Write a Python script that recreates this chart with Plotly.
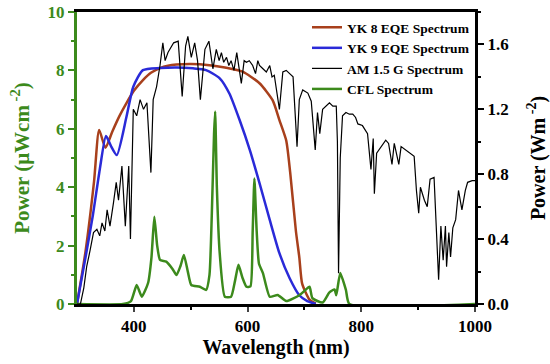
import plotly.graph_objects as go

# YK 8 EQE spectrum (left axis units)
yk8_x = [300, 315, 330, 339, 350, 362, 375, 387, 400, 416, 430, 446, 460, 475, 500, 533, 560, 591, 621, 644, 656, 668, 675, 685, 691, 696, 709, 720]
yk8_y = [0, 1.8, 4.2, 5.96, 5.35, 5.9, 6.45, 6.88, 7.3, 7.67, 7.92, 8.08, 8.16, 8.2, 8.22, 8.18, 8.1, 7.96, 7.56, 6.98, 6.3, 5.6, 4.5, 2.5, 1.6, 0.7, 0.15, 0.02]

# YK 9 EQE spectrum (left axis units)
yk9_x = [300, 315, 328, 340, 351, 360, 370, 387, 399, 416, 446, 475, 504, 527, 551, 568, 586, 604, 621, 639, 656, 674, 691, 705, 714, 720]
yk9_y = [0, 1.6, 3.05, 4.6, 5.75, 5.4, 5.1, 6.41, 7.44, 8.01, 8.08, 8.1, 8.07, 8.01, 7.73, 7.21, 6.3, 5.27, 4.14, 2.88, 1.74, 0.88, 0.3, 0.1, 0.04, 0]

# AM 1.5 G spectrum (right axis units)
am_x = [300, 306, 312, 317, 323, 329, 335, 340, 344, 349, 353, 358, 364, 369, 373, 379, 385, 391, 394, 399, 405, 411, 417, 423, 430, 434, 440, 446,
        451, 455, 460, 465, 470, 478, 485, 491, 495, 501, 507, 512, 517, 525, 532, 539, 545, 550, 554, 558, 563, 567, 571, 576, 581, 589, 594, 598, 603,
        609, 614, 618, 621, 627, 633, 639, 643, 647, 656, 662, 668, 674, 680, 687, 691, 697, 706, 712, 719, 723, 727, 732, 738, 744, 750, 756, 758,
        760, 763, 767, 773, 779, 785, 790, 794, 802, 811, 817, 821, 823, 827, 835, 843, 848, 854, 858, 866, 870, 878, 887, 893, 897, 901, 904, 911,
        916, 921, 928, 932, 936, 940, 944, 948, 950, 954, 957, 961, 966, 971, 977, 983, 987, 995, 1000]
am_y = [0, 0.0, 0.1, 0.23, 0.33, 0.44, 0.46, 0.42, 0.5, 0.45, 0.58, 0.48, 0.62, 0.75, 0.64, 0.85, 0.48, 0.85, 0.4, 1.2, 1.16, 1.26, 1.2, 1.24, 0.81, 1.26, 1.34, 1.47,
        1.61, 1.5, 1.55, 1.58, 1.61, 1.62, 1.28, 1.59, 1.65, 1.52, 1.61, 1.5, 1.26, 1.57, 1.62, 1.45, 1.57, 1.5, 1.55, 1.49, 1.52, 1.47, 1.5, 1.44, 1.55, 1.36, 1.5, 1.49, 1.5,
        1.47, 1.42, 1.5, 1.47, 1.45, 1.43, 1.47, 1.4, 1.41, 1.2, 1.43, 1.44, 1.42, 1.4, 0.97, 1.26, 1.32, 1.3, 1.25, 0.95, 1.18, 1.05, 1.2, 1.22, 1.24, 1.22, 1.22, 1.0,
        0.19, 0.9, 1.16, 1.18, 1.17, 1.17, 1.15, 1.11, 1.1, 1.05, 0.83, 1.02, 0.68, 0.93, 0.97, 1.01, 0.99, 0.86, 0.99, 0.86, 0.97, 0.95, 0.93, 0.91, 0.7, 0.56, 0.72, 0.64,
        0.6, 0.77, 0.78, 0.44, 0.15, 0.48, 0.27, 0.48, 0.23, 0.44, 0.29, 0.47, 0.52, 0.7, 0.58, 0.7, 0.75, 0.76, 0.76]

# CFL spectrum (left axis units)
cfl_x = [300, 381, 395, 405, 414, 425, 431, 436, 441, 446, 457, 468, 475, 482, 488, 495, 501, 516, 527, 533, 537, 541, 543, 546, 551, 560, 571, 578, 584, 591, 598,
         605, 609, 612, 616, 620, 627, 639, 653, 668, 691, 700, 709, 714, 732, 744, 753, 756, 763, 773, 779, 1000]
cfl_y = [0, 0, 0.1, 0.65, 0.25, 0.72, 1.6, 2.99, 2.0, 1.51, 1.45, 1.2, 0.99, 1.3, 1.68, 1.1, 0.65, 0.59, 0.48, 1.0, 3.0, 5.8, 6.59, 4.0, 1.74, 0.25, 0.25, 0.8, 1.34, 0.9, 0.59,
         0.6, 2.5, 4.3, 2.5, 1.39, 1.06, 0.25, 0.31, 0.1, 0.3, 0.45, 0.59, 0.2, 0.05, 0.4, 0.5, 0.3, 1.06, 0.48, 0, 0]

x_ticks = [400, 600, 800, 1000]
left_ticks = [0, 2, 4, 6, 8, 10]
right_ticks = [0.0, 0.4, 0.8, 1.2, 1.6]

GREEN = "#3c8a1c"
BROWN = "#a8401c"
BLUE = "#2a2ad8"
FONT = "Liberation Serif"

fig = go.Figure()
fig.add_trace(go.Scatter(x=am_x, y=am_y, mode="lines", name="AM 1.5 G Spectrum", yaxis="y2",
                         line=dict(color="black", width=1.2), legendrank=3))
fig.add_trace(go.Scatter(x=yk8_x, y=yk8_y, mode="lines", name="YK 8 EQE Spectrum",
                         line=dict(color=BROWN, width=2.5, shape="spline", smoothing=0.6), legendrank=1))
fig.add_trace(go.Scatter(x=yk9_x, y=yk9_y, mode="lines", name="YK 9 EQE Spectrum",
                         line=dict(color=BLUE, width=2.5, shape="spline", smoothing=0.6), legendrank=2))
fig.add_trace(go.Scatter(x=cfl_x, y=cfl_y, mode="lines", name="CFL Spectrum",
                         line=dict(color=GREEN, width=2.5, shape="spline", smoothing=0.5), legendrank=4))

fig.update_layout(
    width=550, height=364,
    margin=dict(l=77, r=75, t=12, b=60),
    paper_bgcolor="white", plot_bgcolor="white",
    font=dict(family=FONT, size=14, color="black"),
    showlegend=True,
    legend=dict(x=1.0, y=1.0, xanchor="right", yanchor="top", bgcolor="rgba(0,0,0,0)",
                font=dict(family=FONT, size=13.5, color="black", weight="bold"),
                tracegroupgap=0, itemwidth=30, borderwidth=0),
    xaxis=dict(range=[300, 1000], tickvals=x_ticks, ticks="outside", ticklen=5, tickwidth=2, automargin=False,
               showline=True, linecolor="black", linewidth=3, mirror=True, showgrid=False, zeroline=False,
               tickfont=dict(family=FONT, size=17, color="black", weight="bold"),
               minor=dict(tickvals=[500, 700, 900], ticks="outside", ticklen=3, tickwidth=2, tickcolor="black"),
               title=dict(text="Wavelength (nm)", font=dict(family=FONT, size=20, color="black", weight="bold"), standoff=2)),
    yaxis=dict(range=[0, 10], tickvals=left_ticks, ticks="outside", ticklen=6, tickwidth=2, tickcolor=GREEN, automargin=False,
               showline=True, linecolor=GREEN, linewidth=3, showgrid=False, zeroline=False,
               tickfont=dict(family=FONT, size=17, color=GREEN, weight="bold"),
               minor=dict(tickvals=[1, 3, 5, 7, 9], ticks="outside", ticklen=3, tickwidth=2, tickcolor=GREEN),
               title=dict(text="Power (μWcm<sup> -2</sup>)", font=dict(family=FONT, size=21, color=GREEN, weight="bold"), standoff=13)),
    yaxis2=dict(range=[0, 1.8], tickvals=right_ticks, tickformat=".1f", overlaying="y", side="right", automargin=False,
                ticks="outside", ticklen=6, tickwidth=2, tickcolor="black",
                showline=True, linecolor="black", linewidth=3, showgrid=False, zeroline=False,
                tickfont=dict(family=FONT, size=17, color="black", weight="bold"),
                minor=dict(tickvals=[0.2, 0.6, 1.0, 1.4, 1.8], ticks="outside", ticklen=3, tickwidth=2, tickcolor="black"),
                title=dict(text="Power (Wm<sup> -2</sup>)", font=dict(family=FONT, size=20, color="black", weight="bold"), standoff=23)),
)

fig.write_html("out.html", config={"displayModeBar": False},
               post_script="document.body.style.margin='0';")
